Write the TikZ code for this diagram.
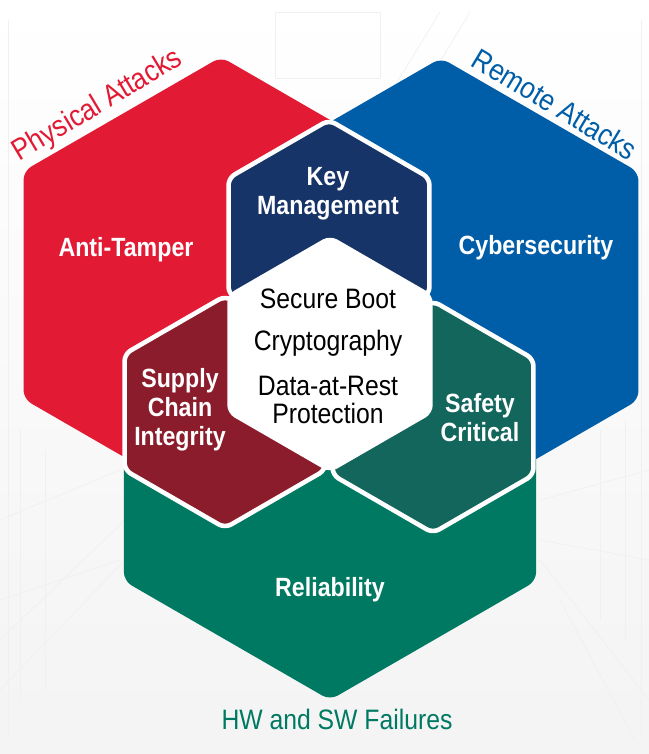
\documentclass[tikz,border=0pt]{standalone}
\usepackage{fontspec}
\setmainfont{Liberation Sans}[FakeStretch=0.88]

\definecolor{physred}{RGB}{226,26,52}
\definecolor{remoteblue}{RGB}{0,94,168}
\definecolor{failgreen}{RGB}{0,121,99}
\definecolor{keynavy}{RGB}{22,52,104}
\definecolor{supplyred}{RGB}{139,28,44}
\definecolor{safeteal}{RGB}{19,102,92}

% pointy-top hexagon: style, centre x, centre y, radius
\newcommand{\hexa}[4]{%
  \path[#1] (#2,#3) ++(90:#4) -- ++(210:#4) -- ++(270:#4) -- ++(330:#4)
    -- ++(30:#4) -- ++(90:#4) -- cycle;}

\begin{document}
\begin{tikzpicture}[x=0.02cm,y=-0.02cm,
    bighex/.style={rounded corners=5pt},
    smallhex/.style={draw=white,line width=2.6pt,line join=round,rounded corners=4pt},
    hexlabel/.style={text=white,font=\bfseries\fontsize{15}{16.5}\selectfont,align=center,inner sep=0pt},
    corelabel/.style={font=\fontsize{16}{16}\selectfont,inner sep=0pt,anchor=base},
    threat/.style={font=\fontsize{17}{19}\selectfont,inner sep=0pt}]

    \useasboundingbox (0,0) rectangle (649,754);
    \fill[top color=white,bottom color=gray!9] (0,0) rectangle (649,754);

    % faint backdrop lines
    \begin{scope}[gray!12,line width=0.4pt]
        \draw (8,20) -- (8,735); \draw (641,20) -- (641,735);
        \draw (275,12) rectangle (380,78);
        \draw (0,690) -- (125,560); \draw (0,640) -- (125,520);
        \draw (20,430) -- (20,700); \draw (45,450) -- (45,690);
        \draw (0,520) -- (120,470); \draw (0,600) -- (120,560);
        \draw (540,560) -- (649,700); \draw (560,600) -- (635,740);
        \draw (600,430) -- (600,620); \draw (625,420) -- (625,640);
        \draw (540,500) -- (649,470); \draw (540,540) -- (649,560);
        \draw (440,12) -- (380,110); \draw (470,12) -- (420,95);
    \end{scope}

    % large hexagons
    \hexa{bighex,fill=failgreen}{330}{462}{238}
    \hexa{bighex,fill=physred}{221}{285}{228}
    \hexa{bighex,fill=remoteblue}{441}{286}{228}

    % small hexagons
    \hexa{smallhex,fill=keynavy}{329}{236}{116}
    \hexa{smallhex,fill=supplyred}{225}{412}{116}
    \hexa{smallhex,fill=safeteal}{433}{417}{116}
    \hexa{smallhex,fill=white}{330}{354}{116}

    % labels
    \node[hexlabel] (tamper) at (126,250) {Anti-Tamper};
    \node[hexlabel] (keymgmt) at (328,194) {Key\\Management};
    \node[hexlabel] (cyber) at (536,248) {Cybersecurity};
    \node[hexlabel] (supply) at (180,410) {Supply\\Chain\\Integrity};
    \node[hexlabel] (safety) at (480,418) {Safety\\Critical};
    \node[hexlabel] (reliab) at (330,590) {Reliability};

    \node[corelabel] (boot) at (328,308) {Secure Boot};
    \node[corelabel] (crypto) at (328,350) {Cryptography};
    \node[corelabel] (rest) at (328,395) {Data-at-Rest};
    \node[corelabel] (protect) at (328,423) {Protection};

    \node[threat,text=physred,rotate=31] (physical) at (98,106) {Physical Attacks};
    \node[threat,text=remoteblue,rotate=-31] (remote) at (555,104) {Remote Attacks};
    \node[threat,text=failgreen,font=\fontsize{16}{18}\selectfont] (failures) at (337,719) {HW and SW Failures};

\end{tikzpicture}
\end{document}
